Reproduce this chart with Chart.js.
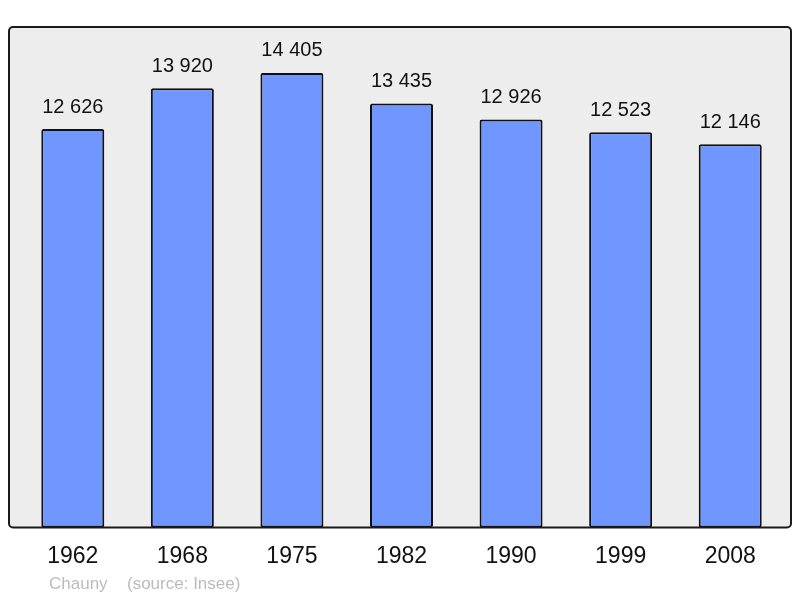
<!DOCTYPE html>
<html>
<head>
<meta charset="utf-8">
<script src="https://cdn.jsdelivr.net/npm/chart.js@4/dist/chart.umd.min.js"></script>
<style>
  html, body { margin: 0; padding: 0; background: #fff; }
  #wrap { width: 800px; height: 598px; }
</style>
</head>
<body>
<div id="wrap"><canvas id="myChart"></canvas></div>
<script>
var years = ["1962", "1968", "1975", "1982", "1990", "1999", "2008"];
var population = [12626, 13920, 14405, 13435, 12926, 12523, 12146];
var townName = "Chauny";
var sourceText = "(source: Insee)";

function fmt(n) {
    return String(n).replace(/\B(?=(\d{3})+(?!\d))/g, " ");
}

// grey frame behind the bars, a bit wider than the chart area
var framePlugin = {
    id: "frame",
    beforeDatasetsDraw: function(chart) {
        var a = chart.chartArea, ctx = chart.ctx;
        var x0 = a.left - 9, x1 = a.right + 6, y0 = a.top, y1 = a.bottom;
        ctx.save();
        ctx.beginPath();
        ctx.roundRect(x0, y0, x1 - x0, y1 - y0, 4);
        ctx.fillStyle = "#ededed";
        ctx.fill();
        ctx.restore();
    },
    afterDatasetsDraw: function(chart) {
        var a = chart.chartArea, ctx = chart.ctx;
        var x0 = a.left - 9, x1 = a.right + 6, y0 = a.top, y1 = a.bottom;
        ctx.save();
        ctx.beginPath();
        ctx.roundRect(x0, y0, x1 - x0, y1 - y0, 4);
        ctx.lineWidth = 2;
        ctx.strokeStyle = "#1a1a1a";
        ctx.stroke();

        // values above bars
        ctx.fillStyle = "#111";
        ctx.font = "20px 'Liberation Sans', Arial, sans-serif";
        ctx.textAlign = "center";
        ctx.textBaseline = "middle";
        chart.getDatasetMeta(0).data.forEach(function(bar, i) {
            ctx.fillText(fmt(population[i]), bar.x, bar.y - 22);
        });

        // footer
        ctx.fillStyle = "#bbbbbb";
        ctx.font = "17px 'Liberation Sans', Arial, sans-serif";
        ctx.textAlign = "left";
        ctx.fillText(townName, 49, 584);
        ctx.fillText(sourceText, 127, 584);
        ctx.restore();
    }
};

var ctx = document.getElementById("myChart");

var myChart = new Chart(ctx, {
    type: "bar",
    data: {
        labels: years,
        datasets: [{
            data: population,
            backgroundColor: "#7096ff",
            borderColor: "#111",
            borderWidth: 2,
            borderRadius: 2,
            borderSkipped: false,
            barPercentage: 0.575,
            categoryPercentage: 1
        }]
    },
    options: {
        responsive: true,
        maintainAspectRatio: false,
        animation: false,
        layout: { padding: { left: 18, right: 15, top: 27, bottom: 13 } },
        plugins: { legend: { display: false }, tooltip: { enabled: false } },
        scales: {
            x: {
                grid: { display: false, drawTicks: false },
                border: { display: false },
                ticks: {
                    padding: 15,
                    color: "#111",
                    font: { family: "'Liberation Sans', Arial, sans-serif", size: 23 }
                }
            },
            y: {
                display: false,
                min: 0,
                max: 15860
            }
        }
    },
    plugins: [framePlugin]
});
</script>
</body>
</html>
